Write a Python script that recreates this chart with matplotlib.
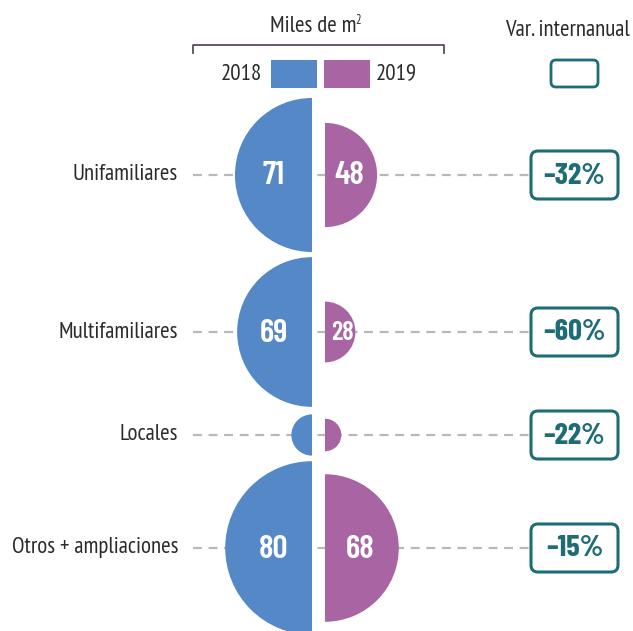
import matplotlib.pyplot as plt
from matplotlib.patches import Wedge, FancyBboxPatch, Rectangle

categories = ["Unifamiliares", "Multifamiliares", "Locales", "Otros + ampliaciones"]
vals_2018 = [71, 69, 19, 80]
vals_2019 = [48, 28, 15, 68]
show_label = [True, True, False, True]
var_pct = [-32, -60, -22, -15]

BLUE = "#5488c7"
PURPLE = "#a864a3"
TEAL = "#1d6c76"
TXT = "#2b2b2b"
FONT = ["PT Sans Narrow", "DejaVu Sans"]
NUM_FONT = ["Barlow Condensed", "DejaVu Sans"]

W, H = 633, 631
row_y = [175, 332, 435, 548]
cx = 318.5
gap = 6.5
scale = 1.085   # px per thousand m2 (radius)

fig = plt.figure(figsize=(W / 100, H / 100), dpi=100)
ax = fig.add_axes([0, 0, 1, 1])
ax.set_xlim(0, W)
ax.set_ylim(H, 0)
ax.axis("off")

for cat, a, b, lab, pct, y in zip(categories, vals_2018, vals_2019, show_label, var_pct, row_y):
    ax.plot([193, 530], [y, y], color="#b8b8b8", lw=1.6, ls=(0, (4, 3)), zorder=1)
    ax.text(178, y, cat, ha="right", va="center", fontsize=16.5, color=TXT, family=FONT)
    ra, rb = a * scale, b * scale
    ax.add_patch(Wedge((cx - gap, y), ra, 90, 270, color=BLUE, lw=0, zorder=2))
    ax.add_patch(Wedge((cx + gap, y), rb, -90, 90, color=PURPLE, lw=0, zorder=2))
    if lab:
        ax.text(cx - gap - 38, y + 1, str(a), ha="center", va="center", fontsize=24,
                color="white", weight="semibold", family=NUM_FONT, zorder=3)
        ax.text(cx + gap + max(0.47 * rb, 17), y + 1, str(b), ha="center", va="center",
                fontsize=24 if b > 40 else 19, color="white", weight="semibold",
                family=NUM_FONT, zorder=3)
    ax.add_patch(FancyBboxPatch((534, y - 21), 81, 42, boxstyle="round,pad=3,rounding_size=7",
                                fc="white", ec=TEAL, lw=2.2, zorder=3))
    ax.text(574.5, y + 1, f"–{abs(pct)}%", ha="center", va="center", fontsize=22, color=TEAL,
            weight="bold", family=NUM_FONT, zorder=4)

# header
ax.text(357, 27, "Miles de m", ha="right", va="center", fontsize=16.5, color=TXT, family=FONT)
ax.text(355.5, 20, "2", ha="left", va="center", fontsize=9, color=TXT, family=FONT)
ax.plot([193, 193, 444, 444], [53, 45, 45, 53], color="#5b4b5b", lw=1.3)
ax.add_patch(Rectangle((271, 60), 46, 28, color=BLUE, lw=0))
ax.add_patch(Rectangle((324, 60), 46, 28, color=PURPLE, lw=0))
ax.text(262, 74, "2018", ha="right", va="center", fontsize=16.5, color=TXT, family=FONT)
ax.text(376, 74, "2019", ha="left", va="center", fontsize=16.5, color=TXT, family=FONT)

ax.text(567, 30, "Var. internanual", ha="center", va="center", fontsize=16.5, color=TXT, family=FONT)
ax.add_patch(FancyBboxPatch((554, 63), 41, 21, boxstyle="round,pad=3,rounding_size=5",
                            fc="white", ec=TEAL, lw=2.0))

fig.savefig("out.png", dpi=100)
